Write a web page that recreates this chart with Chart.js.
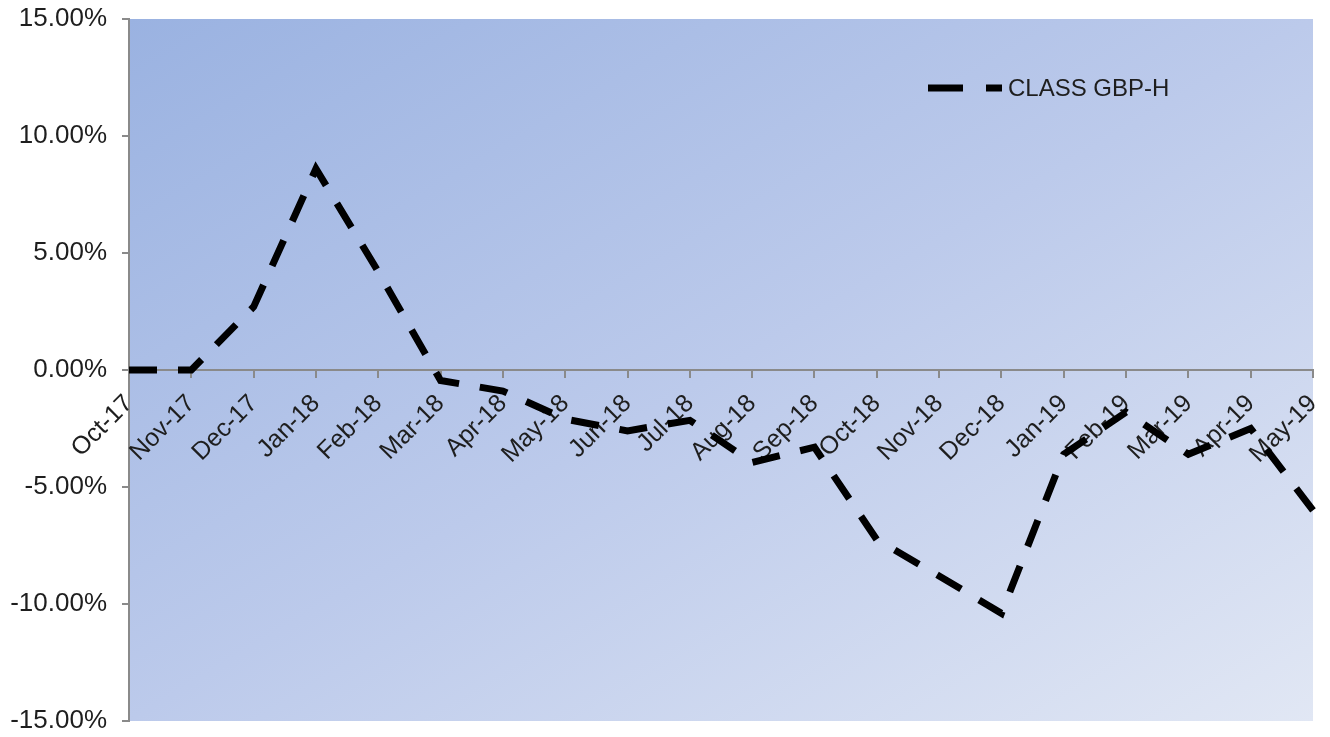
<!DOCTYPE html>
<html>
<head>
<meta charset="utf-8">
<script src="https://cdn.jsdelivr.net/npm/chart.js@4/dist/chart.umd.min.js"></script>
<style>
  html, body { margin: 0; padding: 0; background: #ffffff; }
  #wrap { width: 1330px; height: 737px; }
</style>
</head>
<body>
<div id="wrap"><canvas id="c" width="1330" height="737"></canvas></div>
<script>
// Monthly return series (percent)
const months = ['Oct-17', 'Nov-17', 'Dec-17', 'Jan-18', 'Feb-18', 'Mar-18', 'Apr-18', 'May-18',
  'Jun-18', 'Jul-18', 'Aug-18', 'Sep-18', 'Oct-18', 'Nov-18', 'Dec-18', 'Jan-19', 'Feb-19',
  'Mar-19', 'Apr-19', 'May-19'];
const classGbpH = [0, 0, 2.7, 8.6, 4.2, -0.45, -0.9, -2.1, -2.6, -2.15, -3.95, -3.3, -7.25,
  -8.8, -10.4, -3.6, -1.8, -3.6, -2.5, -6.0];
const yTickValues = [-15, -10, -5, 0, 5, 10, 15];
const seriesName = 'CLASS GBP-H';

const FONT = "'Liberation Sans', Arial, sans-serif";
const TEXT = '#1e1e1e';
const AXIS = '#8a8a8a';

// Diagonal blue wash behind the plot area
const plotBackground = {
  id: 'plotBackground',
  beforeDraw(chart) {
    const { ctx, chartArea: a } = chart;
    const W = a.right - a.left, H = a.bottom - a.top;
    const k = 2 * W * H / (W * W + H * H);
    const g = ctx.createLinearGradient(a.left, a.top, a.left + H * k, a.top + W * k);
    g.addColorStop(0, '#9ab2e1');
    g.addColorStop(0.5, '#bccaeb');
    g.addColorStop(1, '#e1e7f4');
    ctx.save();
    ctx.fillStyle = g;
    ctx.fillRect(a.left, a.top, W, H);
    ctx.restore();
  }
};

// Legend entry drawn inside the plot, top right
const insideLegend = {
  id: 'insideLegend',
  afterDatasetsDraw(chart) {
    const { ctx } = chart;
    const ds = chart.data.datasets[0];
    const y = 88, x0 = 928, x1 = 1002;
    ctx.save();
    ctx.strokeStyle = ds.borderColor;
    ctx.lineWidth = ds.borderWidth;
    ctx.lineCap = 'butt';
    ctx.setLineDash([35, 23]);
    ctx.beginPath();
    ctx.moveTo(x0, y);
    ctx.lineTo(x1, y);
    ctx.stroke();
    ctx.setLineDash([]);
    ctx.fillStyle = TEXT;
    ctx.font = '24px ' + FONT;
    ctx.textBaseline = 'middle';
    ctx.textAlign = 'left';
    ctx.fillText(ds.label, 1008, y + 1);
    ctx.restore();
  }
};

// Keep the plot rectangle set by layout padding alone
function noScalePadding(scale) {
  scale.paddingTop = 0;
  scale.paddingBottom = 0;
  scale.paddingLeft = 0;
  scale.paddingRight = 0;
}

new Chart(document.getElementById('c'), {
  type: 'line',
  data: {
    labels: months,
    datasets: [{
      label: seriesName,
      data: classGbpH,
      borderColor: '#000000',
      borderWidth: 7,
      borderDash: [28, 21],
      borderCapStyle: 'butt',
      borderJoinStyle: 'miter',
      pointRadius: 0,
      pointHoverRadius: 0,
      tension: 0,
      fill: false
    }]
  },
  options: {
    responsive: false,
    devicePixelRatio: 1,
    animation: false,
    events: [],
    layout: { padding: { left: 0, top: 19, right: 17, bottom: 16 } },
    plugins: {
      legend: { display: false },
      tooltip: { enabled: false },
      title: { display: false }
    },
    scales: {
      y: {
        type: 'linear',
        position: 'left',
        min: -15,
        max: 15,
        afterBuildTicks(scale) { scale.ticks = yTickValues.map(v => ({ value: v })); },
        afterFit(scale) { scale.width = 129; noScalePadding(scale); },
        ticks: {
          callback: v => Number(v).toFixed(2) + '%',
          font: { family: FONT, size: 26 },
          color: TEXT,
          padding: 15
        },
        grid: {
          drawOnChartArea: false,
          drawTicks: true,
          tickLength: 7,
          color: AXIS,
          lineWidth: 2
        },
        border: { display: true, color: AXIS, width: 2 }
      },
      x: {
        type: 'category',
        position: { y: 0 },
        offset: false,
        afterFit(scale) { noScalePadding(scale); },
        ticks: {
          autoSkip: false,
          minRotation: 45,
          maxRotation: 45,
          font: { family: FONT, size: 25 },
          color: TEXT,
          padding: 12
        },
        grid: {
          drawOnChartArea: false,
          drawTicks: true,
          tickLength: 7,
          color: AXIS,
          lineWidth: 2,
          offset: false
        },
        border: { display: true, color: AXIS, width: 2 }
      }
    }
  },
  plugins: [plotBackground, insideLegend]
});
</script>
</body>
</html>
